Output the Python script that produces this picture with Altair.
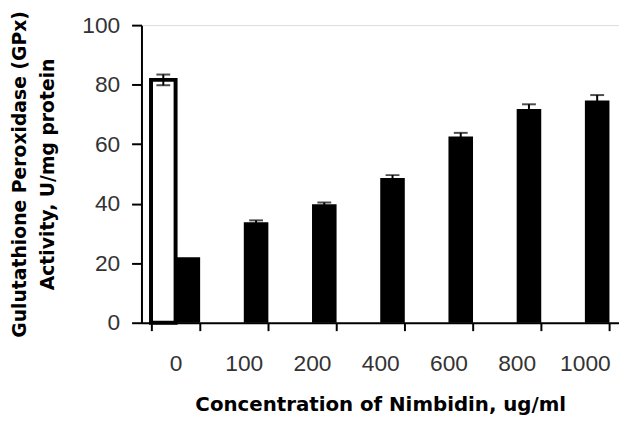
import altair as alt
import pandas as pd

categories = ["0", "100", "200", "400", "600", "800", "1000"]
groups = ["control", "treated"]

control_cat = ["0"]
control_val = [81.6]
control_err = [1.8]

treated_val = [22.0, 33.8, 39.8, 48.6, 62.6, 71.8, 74.7]
treated_err = [0.0, 0.6, 0.6, 1.0, 1.2, 1.6, 1.8]

y_ticks = [0, 20, 40, 60, 80, 100]

rows = []
for c, v, e in zip(control_cat, control_val, control_err):
    rows.append({"cat": c, "grp": "control", "val": v, "lo": v - e, "hi": v + e})
for c, v, e in zip(categories, treated_val, treated_err):
    rows.append({"cat": c, "grp": "treated", "val": v, "lo": v - e, "hi": v + e})
df = pd.DataFrame(rows)

LFONT = "Liberation Sans"
TFONT = "DejaVu Sans"

x_enc = alt.X(
    "cat:N",
    sort=categories,
    scale=alt.Scale(paddingInner=0.28, paddingOuter=0.14),
    axis=alt.Axis(
        title="Concentration of Nimbidin, ug/ml",
        labelAngle=0,
        tickBand="extent",
        domainColor="black",
        domainWidth=2,
        tickColor="black",
        tickWidth=2,
        tickSize=8,
        labelPadding=22,
        labelFont=LFONT,
        labelFontSize=23,
        labelColor="#333333",
        titleFont=TFONT,
        titleFontSize=20,
        titleFontWeight="bold",
        titleColor="black",
        titlePadding=20,
    ),
)
xoff = alt.XOffset("grp:N", scale=alt.Scale(domain=groups, paddingInner=0, paddingOuter=0))
y_enc = alt.Y(
    "val:Q",
    scale=alt.Scale(domain=[0, 100], nice=False),
    axis=alt.Axis(
        values=y_ticks,
        title=["Gulutathione Peroxidase (GPx)", "Activity, U/mg protein"],
        grid=False,
        domainColor="black",
        domainWidth=2,
        tickColor="black",
        tickWidth=2,
        tickSize=10,
        labelPadding=12,
        labelFont=LFONT,
        labelFontSize=23,
        labelColor="#333333",
        titleFont=TFONT,
        titleFontSize=19,
        titleFontWeight="bold",
        titleColor="black",
        titlePadding=25,
        titleLineHeight=28,
    ),
)

base = alt.Chart(df)

control_bars = base.transform_filter(alt.datum.grp == "control").mark_bar(
    fill="white", stroke="black", strokeWidth=4
).encode(x=x_enc, xOffset=xoff, y=y_enc)

treated_bars = base.transform_filter(alt.datum.grp == "treated").mark_bar(
    color="black"
).encode(x=x_enc, xOffset=xoff, y=y_enc)

err_base = base.transform_filter(alt.datum.hi > alt.datum.lo)
rules = err_base.mark_rule(color="black", strokeWidth=2).encode(
    x=x_enc, xOffset=xoff, y=alt.Y("lo:Q"), y2="hi:Q"
)
caps_hi = err_base.mark_tick(color="black", thickness=2, size=14).encode(
    x=x_enc, xOffset=xoff, y=alt.Y("hi:Q")
)
caps_lo = err_base.mark_tick(color="black", thickness=2, size=14).encode(
    x=x_enc, xOffset=xoff, y=alt.Y("lo:Q")
)

chart = alt.layer(control_bars, treated_bars, rules, caps_hi, caps_lo).properties(
    width=483,
    height=301,
    autosize="none",
    padding={"left": 135, "top": 15, "right": 0, "bottom": 91},
).configure_view(stroke=None).configure(background="white")

chart.save("out.html", embed_options={"renderer": "svg", "actions": False})
